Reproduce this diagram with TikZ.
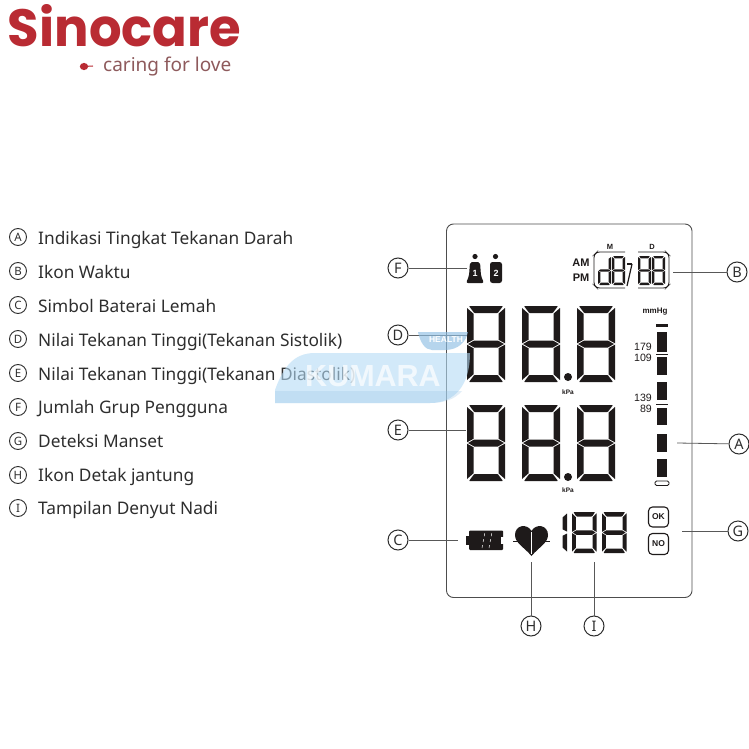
\documentclass[tikz,border=0pt]{standalone}
\usepackage{fontspec}
\setmainfont{Noto Sans}
\newfontfamily\logofont{Poppins}
\newfontfamily\lcdfont{Liberation Sans}
\definecolor{ink}{HTML}{2E2E2E}
\definecolor{seg}{HTML}{1E1A1A}
\definecolor{logored}{HTML}{B92B33}
\definecolor{tagc}{HTML}{8E5A5C}
\definecolor{wm}{HTML}{B4DBF5}
\definecolor{wmd}{HTML}{8FBFE4}
\newcommand\SA{\fill[seg,rounded corners=.7pt] (\c,0)--({\w-\c},0)--({\w-\s-\g},\t)--({\s+\g},\t)--cycle;}
\newcommand\SD{\fill[seg,rounded corners=.7pt] (\c,\h)--({\w-\c},\h)--({\w-\s-\g},{\h-\t})--({\s+\g},{\h-\t})--cycle;}
\newcommand\SG{\fill[seg] ({\g*1.5},{\h/2})--({\s+\g},{\h/2-\t/2})--({\w-\s-\g},{\h/2-\t/2})--({\w-\g*1.5},{\h/2})--({\w-\s-\g},{\h/2+\t/2})--({\s+\g},{\h/2+\t/2})--cycle;}
\newcommand\SF{\fill[seg] (0,\c)--(\s,{\t+\g})--(\s,{\h/2-\t/2-\g})--(0,{\h/2-\g})--cycle;}
\newcommand\SE{\fill[seg] (0,{\h/2+\g})--(\s,{\h/2+\t/2+\g})--(\s,{\h-\t-\g})--(0,{\h-\c})--cycle;}
\newcommand\SB{\fill[seg] (\w,\c)--({\w-\s},{\t+\g})--({\w-\s},{\h/2-\t/2-\g})--(\w,{\h/2-\g})--cycle;}
\newcommand\SC{\fill[seg] (\w,{\h/2+\g})--({\w-\s},{\h/2+\t/2+\g})--({\w-\s},{\h-\t-\g})--(\w,{\h-\c})--cycle;}
% width height top-thickness side-thickness gap chamfer
\newcommand\setdig[6]{\def\w{#1}\def\h{#2}\def\t{#3}\def\s{#4}\def\g{#5}\def\c{#6}}
\newcommand\dig[2]{\begin{scope}[shift={(#1,#2)}]\SA\SB\SC\SD\SE\SF\SG\end{scope}}
\newcommand\digd[2]{\begin{scope}[shift={(#1,#2)}]\SB\SC\SD\SE\SG\end{scope}}
\newcommand\digone[2]{\begin{scope}[shift={(#1,#2)}]\SB\SC\end{scope}}
\tikzset{
 callout/.style={circle,draw=ink,line width=1pt,minimum size=20pt,inner sep=0pt,text=ink,font=\fontsize{14.5}{14.5}\selectfont},
 listmark/.style={circle,draw=ink,line width=.9pt,minimum size=17pt,inner sep=0pt,text=ink,font=\fontsize{11.5}{11.5}\selectfont},
 listtext/.style={anchor=base west,inner sep=0pt,text=ink,font=\fontsize{17.3}{18}\selectfont},
 leader/.style={draw=ink!80,line width=.8pt},
 numlab/.style={anchor=east,inner sep=0pt,text=seg,font=\lcdfont\fontsize{10.6}{10.6}\selectfont},
 tinyb/.style={inner sep=0pt,text=seg,font=\lcdfont\bfseries\fontsize{6.5}{6.5}\selectfont},
 ampm/.style={inner sep=0pt,text=seg,font=\lcdfont\bfseries\fontsize{11}{11}\selectfont},
 okno/.style={draw=seg,line width=1.1pt,rounded corners=4pt,minimum width=20pt,inner sep=0pt,font=\lcdfont\bfseries\fontsize{8.5}{8.5}\selectfont,text=seg},
 persondigit/.style={inner sep=0pt,text=white,font=\lcdfont\bfseries\fontsize{9}{9}\selectfont},
 bar/.style={fill=seg,draw=none}
}
\begin{document}
\begin{tikzpicture}[x=1pt,y=-1pt]
\useasboundingbox (0,0) rectangle (749,749);
\fill[white] (0,0) rectangle (749,749);
% logo
\node[anchor=center,inner sep=0pt,text=logored] (logo) at (124.5,26) {\resizebox{233pt}{42pt}{\logofont\bfseries Sinocare}};
\node[anchor=base west,inner sep=0pt,text=tagc,font=\fontsize{19}{19}\selectfont] (tag) at (103,72) {caring for love};
\fill[logored] (84,66.5) ellipse (4.2pt and 3.6pt);
\draw[logored,line width=1pt] (84,66.5) -- (93,66);
% list
\foreach \n/\l/\y/\b/\txt in {a/A/237/244/Indikasi Tingkat Tekanan Darah,b/B/271/278/Ikon Waktu,c/C/305/312/Simbol Baterai Lemah,d/D/339/346/Nilai Tekanan Tinggi(Tekanan Sistolik),e/E/373/380/Nilai Tekanan Tinggi(Tekanan Diastolik),f/F/407/413/Jumlah Grup Pengguna,g/G/441/447/Deteksi Manset,h/H/475/481/Ikon Detak jantung,i/I/508/514/Tampilan Denyut Nadi}{
 \node[listmark] (m\n) at (18,\y) {\l};
 \node[listtext] (t\n) at (38,\b) {\txt};
}
% panel
\draw[ink!85,line width=.9pt,rounded corners=7pt] (446.5,224) rectangle (692,597.5);
% big digits
\setdig{38}{76}{7}{6.5}{.7}{2}
\foreach \x in {467,522,577}{\dig{\x}{306}\dig{\x}{405}}
\fill[seg] (568,377) circle (4pt);
\fill[seg] (568,477) circle (4pt);
\node[tinyb] (k1) at (568,392) {kPa};
\node[tinyb] (k2) at (568,490) {kPa};
% small digits
\setdig{24.5}{41}{4.5}{3.8}{.6}{1.4}
\dig{572}{512}\dig{602}{512}
\setdig{5}{41}{4.5}{4.5}{1}{1.5}
\digone{562}{512}
% date
\setdig{13}{29}{2.4}{2.4}{.4}{1}
\digd{598}{256}\dig{612}{256}\dig{638}{256}\dig{652}{256}
\draw[seg,line width=.9pt,rounded corners=2.5pt] (625,252) -- (597,252) -- (594,255) -- (594,285) -- (597,288) -- (625,288);
\draw[seg,line width=.9pt,rounded corners=2.5pt] (638,252) -- (666,252) -- (669,255) -- (669,285) -- (666,288) -- (638,288);
\draw[seg,line width=1.2pt] (627,286) -- (632,264);
\fill[seg] (627,263) rectangle (632,265);
\node[tinyb,font=\lcdfont\bfseries\fontsize{7.5}{7.5}\selectfont] (mm) at (610,247) {M};
\node[tinyb,font=\lcdfont\bfseries\fontsize{7.5}{7.5}\selectfont] (dd) at (652,247) {D};
\node[ampm] (am) at (581,263) {AM};
\node[ampm] (pm) at (581,278) {PM};
% bars
\foreach \a/\b in {332/352,357/375,382/400,408/425,434/452,459/477}{\fill[bar] (657,\a) rectangle (667,\b);}
\fill[seg] (656,324) rectangle (668,326.5);
\draw[seg,line width=.8pt] (656,354.5) -- (668,354.5);
\draw[seg,line width=.8pt] (656,404) -- (668,404);
\draw[seg,line width=.8pt,rounded corners=1.5pt] (655,481) rectangle (669,485.5);
\node[inner sep=0pt,text=seg,font=\lcdfont\bfseries\fontsize{8}{8}\selectfont] (mmhg) at (655,312) {mmHg};
\node[numlab] (n179) at (652,347) {179};
\node[numlab] (n109) at (652,358) {109};
\node[numlab] (n139) at (652,398) {139};
\node[numlab] (n89) at (652,409) {89};
% persons
\fill[seg] (475,256.5) circle (2.6pt);
\fill[seg,rounded corners=2pt] (470,262) -- (480,262) -- (481,276) -- (484,283) -- (466,283) -- (469,276) -- cycle;
\node[persondigit] (p1) at (475,273) {1};
\fill[seg] (495.5,256.5) circle (2.6pt);
\fill[seg,rounded corners=2.5pt] (490,262) rectangle (502,283);
\node[persondigit] (p2) at (496,273) {2};
% battery
\fill[seg] (466,536) rectangle (469,545);
\fill[seg,rounded corners=1pt] (469,530.5) rectangle (503,550);
\draw[white,line width=.5pt,dashed] (482,548) -- (485,532);
\draw[white,line width=.5pt,dashed] (489,548) -- (492,532);
\fill[white] (500.5,537) rectangle (503.5,544);
% heart
\fill[seg] (531.5,556) .. controls (524,547) and (515,543) .. (515,535) .. controls (515,525) and (527,523) .. (531.5,531) .. controls (536,523) and (548,525) .. (548,535) .. controls (548,543) and (539,547) .. (531.5,556) -- cycle;
\draw[seg,line width=.6pt] (513,541) -- (550,541);
\draw[white,line width=.3pt] (531.5,532) -- (531.5,554);
% OK NO
\node[okno,minimum height=20pt] (ok) at (658.5,517) {OK};
\node[okno,minimum height=21pt] (no) at (658.5,544) {NO};
% callouts
\node[callout] (cF) at (398,268) {F};
\node[callout] (cB) at (737,272) {B};
\node[callout] (cD) at (398,335) {D};
\node[callout] (cE) at (398,430) {E};
\node[callout] (cA) at (739,444) {A};
\node[callout] (cC) at (398,540) {C};
\node[callout] (cG) at (738,531) {G};
\node[callout] (cH) at (531,626) {H};
\node[callout] (cI) at (594,626) {I};
\coordinate (eF) at (467,268);
\coordinate (eB) at (673,272);
\coordinate (eD) at (467,335);
\coordinate (eE) at (466,430);
\coordinate (eA) at (677,443);
\coordinate (eC) at (458,540);
\coordinate (eG) at (682,531);
\coordinate (eH) at (531,562);
\coordinate (eI) at (594,562);
\foreach \p in {F,B,D,E,A,C,G,H,I}{\draw[leader] (c\p) -- (e\p);}
% watermark
\fill[wm,opacity=.6] (275,403) -- (275,390) .. controls (283,368) and (293,353) .. (315,353) -- (470,353) .. controls (470,385) and (455,403) .. (430,403) -- cycle;
\fill[wmd,opacity=.25] (275,391) -- (462,391) .. controls (455,399) and (445,403) .. (430,403) -- (275,403) -- cycle;
\fill[wmd,opacity=.65] (418,332) -- (468,332) .. controls (466,342) and (458,350) .. (445,350) -- (432,350) .. controls (425,350) and (420,342) .. (418,332) -- cycle;
\node[inner sep=0pt,text=white,font=\lcdfont\bfseries\fontsize{8.5}{8.5}\selectfont] (wh) at (446,340) {HEALTH};
\node[inner sep=0pt,text=white,opacity=.7,font=\lcdfont\bfseries\fontsize{30.5}{30.5}\selectfont] (wk) at (373,376) {KUMARA};
\end{tikzpicture}
\end{document}
